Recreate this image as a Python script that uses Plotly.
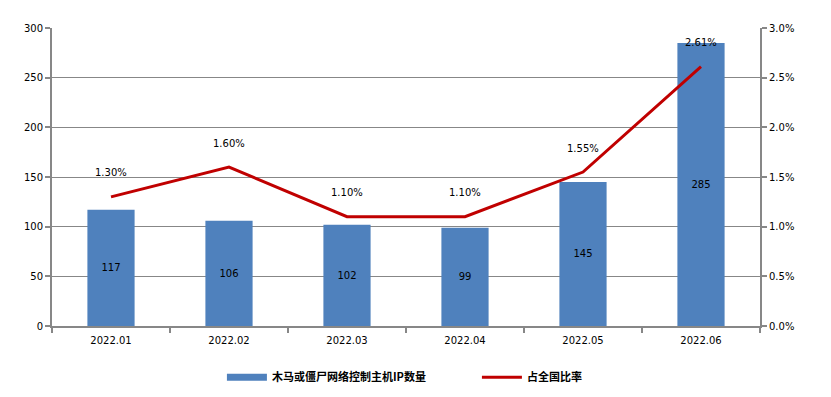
import plotly.graph_objects as go

categories = ["2022.01", "2022.02", "2022.03", "2022.04", "2022.05", "2022.06"]
ip_counts = [117, 106, 102, 99, 145, 285]
ratios = [1.30, 1.60, 1.10, 1.10, 1.55, 2.61]
ratio_labels = ["1.30%", "1.60%", "1.10%", "1.10%", "1.55%", "2.61%"]
bar_name = "木马或僵尸网络控制主机IP数量"
line_name = "占全国比率"

font_family = "DejaVu Sans, Noto Sans CJK SC, sans-serif"
grid = "#878787"
bar_color = "#4F81BD"
line_color = "#C00000"

fig = go.Figure()
fig.add_trace(go.Bar(
    x=categories, y=ip_counts, name=bar_name, showlegend=False,
    marker=dict(color=bar_color, line=dict(width=0)),
    width=0.4,
    text=[str(v) for v in ip_counts], textposition="inside",
    insidetextanchor="middle",
    textfont=dict(color="black", size=10, family=font_family),
    yaxis="y",
))
# legend-only entry for the bars (wide rectangle like the reference)
fig.add_trace(go.Scatter(
    x=[None], y=[None], name=bar_name, mode="lines",
    line=dict(color=bar_color, width=7), yaxis="y",
))
fig.add_trace(go.Scatter(
    x=categories, y=ratios, name=line_name, mode="lines",
    line=dict(color=line_color, width=3),
    yaxis="y2",
))
for i, (r, t) in enumerate(zip(ratios, ratio_labels)):
    fig.add_annotation(x=i, y=r, xref="x", yref="y2", text=t, showarrow=False,
                       yshift=24, font=dict(size=10, color="black", family=font_family))

fig.update_layout(
    width=823, height=389,
    margin=dict(l=44, r=71, t=20, b=71, autoexpand=False),
    plot_bgcolor="white", paper_bgcolor="white",
    font=dict(family=font_family, size=10, color="black"),
    showlegend=True,
    legend=dict(orientation="h", x=0.240, xanchor="left",
                yref="container", y=0.051, yanchor="middle",
                font=dict(size=11, family="Noto Sans CJK SC, sans-serif", weight="bold"),
                itemwidth=40, entrywidth=200),
    xaxis=dict(type="category", range=[-0.5, 5.5], showline=True, linecolor=grid, linewidth=2,
               ticks="outside", tickson="boundaries", ticklen=5, tickcolor=grid,
               tickwidth=2, showgrid=False, tickfont=dict(size=10), tickangle=0,
               ticklabelstandoff=4),
    yaxis=dict(range=[0, 300], dtick=50, showline=True, linecolor=grid, linewidth=2,
               ticks="outside", ticklen=5, tickcolor=grid, tickwidth=2,
               showgrid=True, gridcolor=grid, gridwidth=1, zeroline=False,
               tickfont=dict(size=10)),
    yaxis2=dict(range=[0, 3], dtick=0.5, overlaying="y", side="right",
                showline=True, linecolor=grid, linewidth=2,
                ticks="outside", ticklen=5, tickcolor=grid, tickwidth=2,
                showgrid=False, zeroline=False, ticksuffix="%", tickformat=".1f",
                tickfont=dict(size=10)),
)

fig.write_html("out.html")
